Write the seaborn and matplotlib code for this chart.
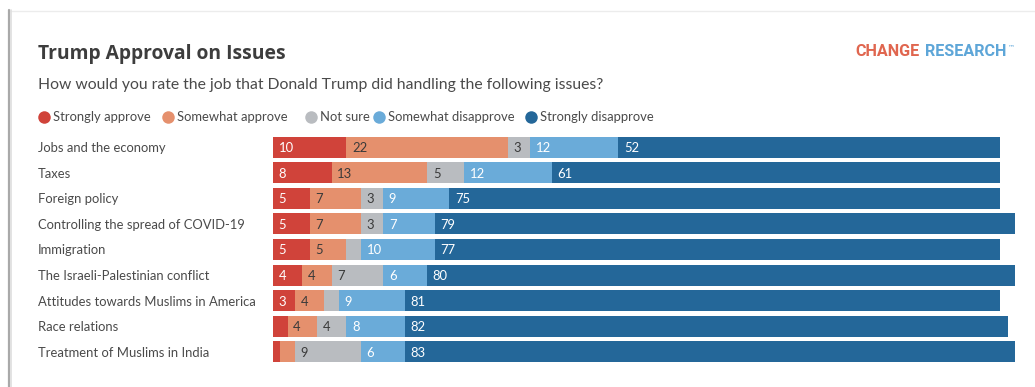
import matplotlib
matplotlib.use("Agg")
import matplotlib.pyplot as plt
import seaborn as sns
import pandas as pd

# ---- survey results (percent) ----
issues = [
    "Jobs and the economy",
    "Taxes",
    "Foreign policy",
    "Controlling the spread of COVID-19",
    "Immigration",
    "The Israeli-Palestinian conflict",
    "Attitudes towards Muslims in America",
    "Race relations",
    "Treatment of Muslims in India",
]
strongly_approve = [10, 8, 5, 5, 5, 4, 3, 2, 1]
somewhat_approve = [22, 13, 7, 7, 5, 4, 4, 4, 2]
not_sure = [3, 5, 3, 3, 2, 7, 2, 4, 9]
somewhat_disapprove = [12, 12, 9, 7, 10, 6, 9, 8, 6]
strongly_disapprove = [52, 61, 75, 79, 77, 80, 81, 82, 83]

responses = ["Strongly approve", "Somewhat approve", "Not sure",
             "Somewhat disapprove", "Strongly disapprove"]
series = [strongly_approve, somewhat_approve, not_sure,
          somewhat_disapprove, strongly_disapprove]
colors = ["#d0433a", "#e5906d", "#b9bcc0", "#6aabd9", "#246799"]
label_colors = ["white", "#3a3a3a", "#3a3a3a", "white", "white"]

title = "Trump Approval on Issues"
subtitle = "How would you rate the job that Donald Trump did handling the following issues?"

W, H = 1035, 387
sns.set_theme(style="white")
plt.rcParams["font.family"] = ["Lato", "DejaVu Sans"]
TEXT = "#3d3d3d"

fig = plt.figure(figsize=(W / 100, H / 100), dpi=100)
fig.patch.set_facecolor("white")

# full-figure overlay in pixel coordinates for the card, headings and legend
bg = fig.add_axes([0, 0, 1, 1], zorder=0)
bg.set_xlim(0, W)
bg.set_ylim(H, 0)
bg.axis("off")

# card outline with a soft shadow on the left edge
bg.plot([10, W], [10.5, 10.5], color="#ececec", lw=1.0)
bg.plot([9.2, 9.2], [10, H], color="#a9a9a9", lw=1.6)
bg.plot([11.0, 11.0], [10, H], color="#dedede", lw=1.2)

bg.text(38, 59, title, fontsize=13.9, fontweight="bold", color=TEXT, va="baseline",
        family=["Open Sans", "DejaVu Sans"])
bg.text(38, 88.5, subtitle, fontsize=11.3, color="#4a4a4a", va="baseline")

# brand mark
logo_font = ["Liberation Sans Narrow", "Roboto", "DejaVu Sans"]
bg.text(855, 56.5, "CHANGE", fontsize=11.6, fontweight="bold", color="#e0664f",
        va="baseline", ha="left", family=logo_font)
bg.text(925, 56.5, "RESEARCH", fontsize=11.6, fontweight="bold", color="#5ea6d8",
        va="baseline", ha="left", family=logo_font)
bg.text(1008, 47.5, "\u2122", fontsize=5, color="#5ea6d8", va="center", family="DejaVu Sans")

# legend
legend_circle_x = [43.5, 167.5, 311, 378.5, 531]
for cx, name, col in zip(legend_circle_x, responses, colors):
    bg.plot([cx], [116.5], marker="o", markersize=9, color=col, mec="none")
    bg.text(cx + 9.5, 121, name, fontsize=9.4, color="#4a4a4a", va="baseline")

# ---- stacked horizontal bars ----
ax = fig.add_axes([273 / W, 1 - 364.8 / H, 742 / W, 230.6 / H], zorder=1)
ax.patch.set_alpha(0)

df = pd.DataFrame({"issue": issues})
cum = [0] * len(issues)
starts = []
for vals in series:
    starts.append(list(cum))
    cum = [c + v for c, v in zip(cum, vals)]
for k, name in enumerate(responses):
    df[name] = [s + v for s, v in zip(starts[k], series[k])]

# draw cumulative layers from the outermost inwards so each segment shows
for k in range(len(responses) - 1, -1, -1):
    sns.barplot(data=df, x=responses[k], y="issue", orient="h", color=colors[k],
                saturation=1, width=0.82, ax=ax, edgecolor="none", linewidth=0)

# value labels inside segments
for k, vals in enumerate(series):
    for i, v in enumerate(vals):
        if v >= 3:
            ax.annotate(str(v), xy=(starts[k][i], i), xytext=(4, 0),
                        textcoords="offset points", ha="left", va="center_baseline",
                        fontsize=9.4, color=label_colors[k])

ax.set_xlim(0, 101)
ax.set_ylim(len(issues) - 0.5, -0.5)
ax.set_xlabel("")
ax.set_ylabel("")
ax.set_xticks([])
ax.tick_params(axis="y", length=0, pad=235 * 0.72, labelsize=9.4, labelcolor="#4a4a4a")
for lab in ax.get_yticklabels():
    lab.set_horizontalalignment("left")
sns.despine(ax=ax, left=True, bottom=True)

fig.savefig("out.png", dpi=100, facecolor="white")
